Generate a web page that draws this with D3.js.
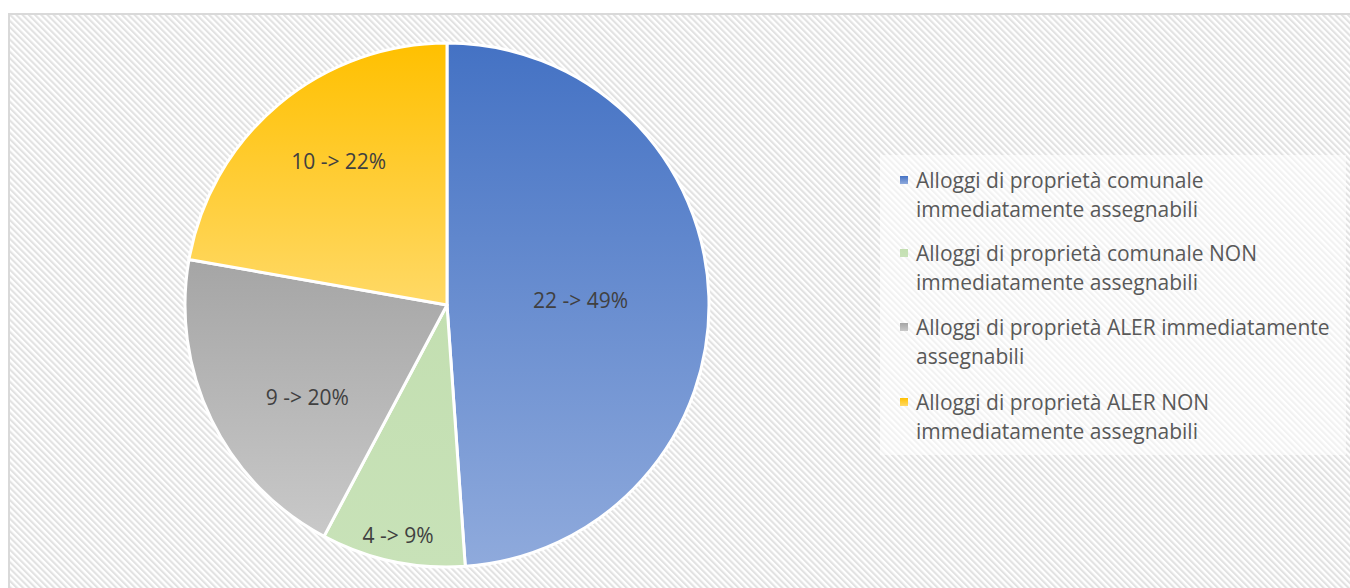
<!DOCTYPE html>
<html><head><meta charset="utf-8">
<script src="https://cdn.jsdelivr.net/npm/d3@7"></script>
<style>html,body{margin:0;padding:0;background:#fff;}svg{display:block;}</style>
</head><body>
<script>
const categories = [
  "Alloggi di proprietà comunale immediatamente assegnabili",
  "Alloggi di proprietà comunale NON immediatamente assegnabili",
  "Alloggi di proprietà ALER immediatamente assegnabili",
  "Alloggi di proprietà ALER NON immediatamente assegnabili"
];
const values = [22, 4, 9, 10];
const percentLabels = ["49%", "9%", "20%", "22%"];
const legendLines = [
  ["Alloggi di proprietà comunale", "immediatamente assegnabili"],
  ["Alloggi di proprietà comunale NON", "immediatamente assegnabili"],
  ["Alloggi di proprietà ALER immediatamente", "assegnabili"],
  ["Alloggi di proprietà ALER NON", "immediatamente assegnabili"]
];

// style / layout
const gradStops = [["#4472C4", "#8FAADC"], ["#C3DFB1", "#C8E2B8"], ["#A5A5A5", "#C9C9C9"], ["#FFC000", "#FFD966"]];
const labelRadiusFrac = [0.51, 0.9, 0.64, 0.685];
const labelAngleFrac = [0.5, 0.5, 0.394, 0.536];
const W = 1350, H = 588, cx = 447, cy = 305, R = 262;
const font = "'Open Sans', 'Liberation Sans', Arial, sans-serif";

const svg = d3.select("body").append("svg").attr("width", W).attr("height", H);
const defs = svg.append("defs");
const pat = defs.append("pattern").attr("id", "hatch").attr("patternUnits", "userSpaceOnUse")
  .attr("width", 4.4).attr("height", 4.4).attr("patternTransform", "rotate(-45)");
pat.append("rect").attr("width", 4.4).attr("height", 4.4).attr("fill", "#ffffff");
pat.append("rect").attr("width", 2.1).attr("height", 4.4).attr("fill", "#e2e2e2");

gradStops.forEach((s, i) => {
  const g = defs.append("linearGradient").attr("id", "g" + i).attr("x1", 0).attr("y1", 0).attr("x2", 0).attr("y2", 1);
  g.append("stop").attr("offset", 0).attr("stop-color", s[0]);
  g.append("stop").attr("offset", 1).attr("stop-color", s[1]);
});

svg.append("rect").attr("width", W).attr("height", H).attr("fill", "#fff");
svg.append("rect").attr("x", 9).attr("y", 14).attr("width", W + 10).attr("height", H + 10)
  .attr("fill", "url(#hatch)").attr("stroke", "#d9d9d9").attr("stroke-width", 2);

const pie = d3.pie().sort(null).value(d => d)(values);
const arc = d3.arc().innerRadius(0).outerRadius(R);
const g = svg.append("g").attr("transform", `translate(${cx},${cy})`);
g.selectAll("path").data(pie).join("path")
  .attr("d", arc).attr("fill", (d, i) => `url(#g${i})`)
  .attr("stroke", "#fff").attr("stroke-width", 3).attr("stroke-linejoin", "round");

g.selectAll("text.lbl").data(pie).join("text").attr("class", "lbl")
  .attr("transform", (d, i) => {
    const r = R * labelRadiusFrac[i];
    const a = d.startAngle + labelAngleFrac[i] * (d.endAngle - d.startAngle);
    return `translate(${r * Math.sin(a)},${-r * Math.cos(a)})`;
  })
  .attr("text-anchor", "middle").attr("dy", "0.36em")
  .attr("font-family", font).attr("font-size", 21).attr("fill", "#404040")
  .text((d, i) => `${values[i]} -> ${percentLabels[i]}`);

// legend
svg.append("rect").attr("x", 880).attr("y", 155).attr("width", 466).attr("height", 300)
  .attr("fill", "#fff").attr("opacity", 0.55);
const lg = svg.append("g");
const entryY = [180, 253, 327, 402];
legendLines.forEach((lines, i) => {
  const y0 = entryY[i];
  lg.append("rect").attr("x", 900).attr("y", y0 - 4).attr("width", 8).attr("height", 8)
    .attr("fill", `url(#g${i})`);
  lines.forEach((t, j) => {
    lg.append("text").attr("x", 916).attr("y", y0 + j * 29).attr("dy", "0.36em")
      .attr("font-family", font).attr("font-size", 21).attr("fill", "#595959").text(t);
  });
});
</script>
</body></html>
